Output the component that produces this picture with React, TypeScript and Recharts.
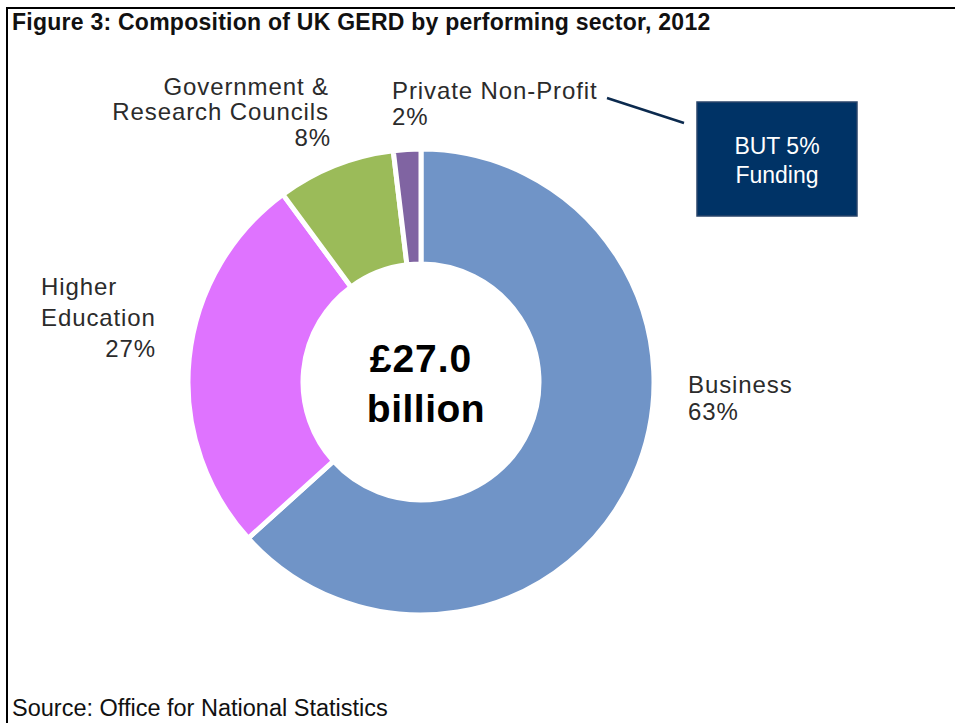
import React from "react";
import { PieChart, Pie, Cell } from "recharts";

const sectors = ["Business", "Higher Education", "Government & Research Councils", "Private Non-Profit"];
const shares = [63.3, 26.6, 8.2, 1.9];
const colors = ["#7094C7", "#DF73FF", "#9BBB59", "#8064A2"];
const totalLabel = ["£27.0", "billion"];
const titleText = "Figure 3: Composition of UK GERD by performing sector, 2012";
const sourceText = "Source: Office for National Statistics";
const calloutLines = ["BUT 5%", "Funding"];

const data = sectors.map((name, i) => ({ name, value: shares[i] }));

type LabelLine = { text: string; x: number; y: number; anchor: "start" | "end" | "middle" };

const labelLayout: Record<string, (pct: string) => LabelLine[]> = {
  "Business": (p) => [
    { text: "Business", x: 688, y: 393, anchor: "start" },
    { text: p, x: 688, y: 420, anchor: "start" },
  ],
  "Higher Education": (p) => [
    { text: "Higher", x: 41, y: 295, anchor: "start" },
    { text: "Education", x: 41, y: 326, anchor: "start" },
    { text: p, x: 156, y: 357, anchor: "end" },
  ],
  "Government & Research Councils": (p) => [
    { text: "Government &", x: 329, y: 95, anchor: "end" },
    { text: "Research Councils", x: 329, y: 120, anchor: "end" },
    { text: p, x: 331, y: 146, anchor: "end" },
  ],
  "Private Non-Profit": (p) => [
    { text: "Private Non-Profit", x: 392, y: 99, anchor: "start" },
    { text: p, x: 392, y: 125, anchor: "start" },
  ],
};

const renderLabel = (props: any) => {
  const name = props.name ?? props.payload?.name;
  const pct = `${Math.round((props.percent ?? 0) * 100)}%`;
  const lines = labelLayout[name] ? labelLayout[name](pct) : [];
  return (
    <g>
      {lines.map((l, i) => (
        <text
          key={i}
          x={l.x}
          y={l.y}
          textAnchor={l.anchor}
          fill="#2b2b2b"
          fontFamily="Liberation Sans, Arial, sans-serif"
          fontSize={24}
          letterSpacing={0.9}
        >
          {l.text}
        </text>
      ))}
    </g>
  );
};

export default function App() {
  return (
    <div style={{ position: "absolute", left: 0, top: 0, width: 955, height: 723, background: "#fff", overflow: "hidden" }}>
      <PieChart width={955} height={723} margin={{ top: 0, right: 0, bottom: 0, left: 0 }}>
        <Pie
          data={data}
          dataKey="value"
          nameKey="name"
          cx={421}
          cy={382}
          innerRadius={118}
          outerRadius={233}
          startAngle={90}
          endAngle={-270}
          stroke="#ffffff"
          strokeWidth={5}
          label={renderLabel}
          labelLine={false}
          isAnimationActive={false}
        >
          {data.map((d, i) => (
            <Cell key={d.name} fill={colors[i]} />
          ))}
        </Pie>
      </PieChart>
      <svg width={955} height={723} style={{ position: "absolute", left: 0, top: 0, pointerEvents: "none" }}>
        <line x1={7} y1={8} x2={955} y2={8} stroke="#000" strokeWidth={2} />
        <line x1={7} y1={7} x2={7} y2={723} stroke="#000" strokeWidth={2} />
        <text x={12} y={30} fontFamily="Liberation Sans, Arial, sans-serif" fontWeight="bold" fontSize={23} letterSpacing={0.25} fill="#111">
          {titleText}
        </text>
        <text x={12} y={716} fontFamily="Liberation Sans, Arial, sans-serif" fontSize={23.5} fill="#111">
          {sourceText}
        </text>
        <text x={421} y={372} textAnchor="middle" fontFamily="Liberation Sans, Arial, sans-serif" fontWeight="bold" fontSize={39} letterSpacing={1} fill="#000">
          {totalLabel[0]}
        </text>
        <text x={426} y={422} textAnchor="middle" fontFamily="Liberation Sans, Arial, sans-serif" fontWeight="bold" fontSize={39} letterSpacing={0.5} fill="#000">
          {totalLabel[1]}
        </text>
        <line x1={607} y1={98} x2={684} y2={123} stroke="#0B2A4E" strokeWidth={2.5} />
        <rect x={697} y={102} width={160} height={114} fill="#003366" stroke="#2A466B" strokeWidth={1.5} />
        <text x={777} y={154} textAnchor="middle" fontFamily="Liberation Sans, Arial, sans-serif" fontSize={23} fill="#fff">
          {calloutLines[0]}
        </text>
        <text x={777} y={183} textAnchor="middle" fontFamily="Liberation Sans, Arial, sans-serif" fontSize={23} fill="#fff">
          {calloutLines[1]}
        </text>
      </svg>
    </div>
  );
}
